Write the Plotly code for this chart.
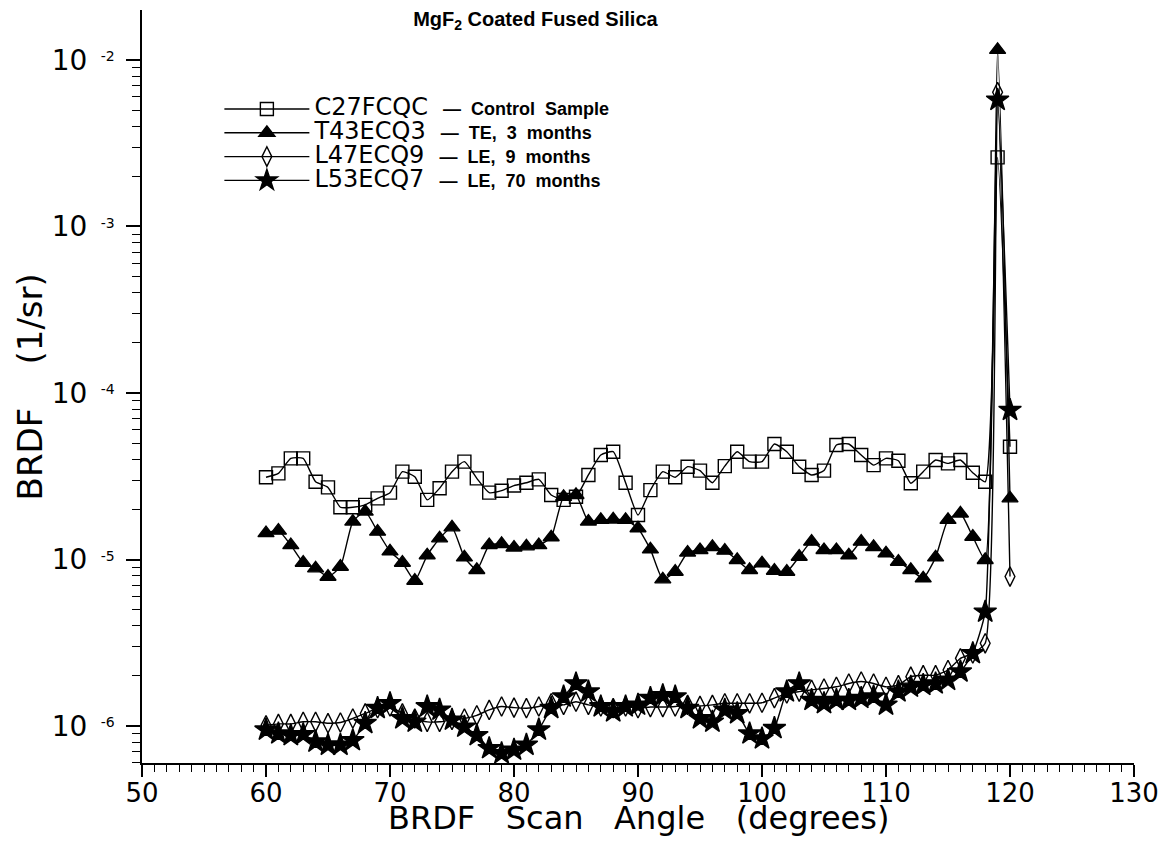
import plotly.graph_objects as go

angles = list(range(60, 121))

control_c27fcqc = [
    3.12e-5, 3.29e-5, 4.05e-5, 4.05e-5, 2.93e-5, 2.71e-5, 2.06e-5, 2.06e-5, 2.13e-5, 2.33e-5,
    2.52e-5, 3.37e-5, 3.14e-5, 2.28e-5, 2.68e-5, 3.37e-5, 3.87e-5, 3.07e-5, 2.52e-5, 2.59e-5,
    2.78e-5, 2.89e-5, 3.03e-5, 2.44e-5, 2.28e-5, 2.38e-5, 3.22e-5, 4.24e-5, 4.44e-5, 2.89e-5,
    1.85e-5, 2.61e-5, 3.37e-5, 3.12e-5, 3.61e-5, 3.42e-5, 2.89e-5, 3.64e-5, 4.44e-5, 3.87e-5,
    3.87e-5, 4.94e-5, 4.44e-5, 3.61e-5, 3.22e-5, 3.42e-5, 4.87e-5, 4.94e-5, 4.24e-5, 3.69e-5,
    4.05e-5, 3.92e-5, 2.87e-5, 3.37e-5, 3.96e-5, 3.78e-5, 3.96e-5, 3.32e-5, 2.93e-5, 2.6e-3,
    4.76e-5,
]

te_t43ecq3 = [
    1.44e-5, 1.49e-5, 1.22e-5, 9.57e-6, 8.85e-6, 7.88e-6, 9.05e-6, 1.69e-5, 1.94e-5, 1.47e-5,
    1.12e-5, 9.57e-6, 7.46e-6, 1.06e-5, 1.34e-5, 1.56e-5, 1.03e-5, 8.65e-6, 1.22e-5, 1.24e-5,
    1.18e-5, 1.20e-5, 1.22e-5, 1.36e-5, 2.38e-5, 2.44e-5, 1.69e-5, 1.73e-5, 1.74e-5, 1.73e-5,
    1.54e-5, 1.15e-5, 7.60e-6, 8.45e-6, 1.10e-5, 1.14e-5, 1.19e-5, 1.13e-5, 9.93e-6, 8.65e-6,
    9.49e-6, 8.56e-6, 8.45e-6, 1.04e-5, 1.28e-5, 1.14e-5, 1.14e-5, 1.06e-5, 1.28e-5, 1.19e-5,
    1.09e-5, 9.70e-6, 8.65e-6, 7.71e-6, 1.03e-5, 1.73e-5, 1.89e-5, 1.37e-5, 9.93e-6, 1.15e-2,
    2.33e-5,
]

le_l47ecq9 = [
    1.01e-6, 1.03e-6, 1.03e-6, 1.06e-6, 1.06e-6, 1.04e-6, 1.05e-6, 1.11e-6, 1.19e-6, 1.28e-6,
    1.31e-6, 1.19e-6, 1.11e-6, 1.06e-6, 1.06e-6, 1.09e-6, 1.11e-6, 1.16e-6, 1.25e-6, 1.31e-6,
    1.29e-6, 1.28e-6, 1.31e-6, 1.37e-6, 1.34e-6, 1.40e-6, 1.34e-6, 1.31e-6, 1.28e-6, 1.31e-6,
    1.28e-6, 1.30e-6, 1.30e-6, 1.31e-6, 1.34e-6, 1.32e-6, 1.34e-6, 1.37e-6, 1.37e-6, 1.37e-6,
    1.38e-6, 1.47e-6, 1.57e-6, 1.61e-6, 1.65e-6, 1.68e-6, 1.72e-6, 1.80e-6, 1.85e-6, 1.80e-6,
    1.72e-6, 1.76e-6, 1.98e-6, 2.02e-6, 2.02e-6, 2.17e-6, 2.55e-6, 2.73e-6, 3.14e-6, 6.4e-3,
    7.9e-6,
]

le_l53ecq7 = [
    9.5e-7, 9.0e-7, 8.8e-7, 8.9e-7, 8.05e-7, 7.7e-7, 7.7e-7, 8.2e-7, 1.04e-6, 1.28e-6,
    1.37e-6, 1.11e-6, 1.06e-6, 1.31e-6, 1.25e-6, 1.09e-6, 9.9e-7, 8.8e-7, 7.35e-7, 6.85e-7,
    7.2e-7, 7.7e-7, 9.5e-7, 1.28e-6, 1.50e-6, 1.80e-6, 1.61e-6, 1.31e-6, 1.22e-6, 1.31e-6,
    1.34e-6, 1.47e-6, 1.53e-6, 1.50e-6, 1.28e-6, 1.11e-6, 1.06e-6, 1.25e-6, 1.19e-6, 9.0e-7,
    8.4e-7, 9.7e-7, 1.61e-6, 1.80e-6, 1.43e-6, 1.37e-6, 1.43e-6, 1.43e-6, 1.47e-6, 1.50e-6,
    1.34e-6, 1.61e-6, 1.72e-6, 1.76e-6, 1.80e-6, 1.89e-6, 2.12e-6, 2.73e-6, 4.85e-6, 5.75e-3,
    7.9e-5,
]

series_codes = ["C27FCQC", "T43ECQ3", "L47ECQ9", "L53ECQ7"]
series_desc = ["Control  Sample", "TE,  3  months", "LE,  9  months", "LE,  70  months"]
series_values = [control_c27fcqc, te_t43ecq3, le_l47ecq9, le_l53ecq7]
series_symbols = ["square-open", "triangle-up", "diamond-tall-open", "star"]
series_sizes = [13, 14, 14, 17]

x_title = "BRDF   Scan   Angle   (degrees)"
y_title = "BRDF    (1/sr)"
x_tick_vals = [50, 60, 70, 80, 90, 100, 110, 120, 130]
y_tick_vals = [1e-6, 1e-5, 1e-4, 1e-3, 1e-2]
y_exponents = ["-6", "-5", "-4", "-3", "-2"]
y_tick_text = [f"10 <span style='font-size:20px'><sup> {e}</sup></span>" for e in y_exponents]

y_minor = [k * 10.0 ** e for e in range(-7, -1) for k in range(2, 10)]
y_minor = [v for v in y_minor if 6e-7 <= v <= 2e-2]

fig = go.Figure()
for code, desc, vals, sym, sz in zip(series_codes, series_desc, series_values, series_symbols, series_sizes):
    fig.add_trace(go.Scatter(
        x=angles, y=vals, mode="lines+markers",
        name=(f"<span style='font-size:24px;font-family:DejaVu Sans'>{code}</span>"
              f"<span style='font-size:18px'><b>   —  {desc}</b></span>"),
        line=dict(color="black", width=1.4, shape="spline", smoothing=0.5),
        marker=dict(symbol=sym, size=sz, color="black", line=dict(color="black", width=1.4)),
    ))

fig.update_layout(
    width=1154, height=831,
    margin=dict(l=134, r=28, t=2, b=76, autoexpand=False),
    paper_bgcolor="white", plot_bgcolor="white",
    font=dict(family="Liberation Sans", color="black"),
    title=dict(text="<b>MgF<sub>2</sub> Coated Fused Silica</b>", x=0.457, y=0.9868,
               xanchor="center", yanchor="middle", font=dict(size=20, family="Liberation Sans")),
    showlegend=True,
    legend=dict(x=0.078, y=0.891, xanchor="left", yanchor="top", bgcolor="rgba(0,0,0,0)",
                font=dict(size=16, family="Liberation Sans"), tracegroupgap=0, itemwidth=85),
    annotations=[
        dict(text=x_title, xref="paper", yref="paper", x=0.5, y=-0.073,
             xanchor="center", yanchor="middle", showarrow=False,
             font=dict(size=32, family="DejaVu Sans", color="black")),
        dict(text=y_title, xref="paper", yref="paper", x=-0.113, y=0.5, textangle=-90,
             xanchor="center", yanchor="middle", showarrow=False,
             font=dict(size=34, family="DejaVu Sans", color="black")),
    ],
)

fig.update_xaxes(
    range=[50, 130], tickmode="array", tickvals=x_tick_vals, automargin=False,
    showline=True, linecolor="black", linewidth=1.5, mirror=False,
    ticks="outside", ticklen=12, tickwidth=1.5, tickcolor="black", ticklabelstandoff=-6,
    tickfont=dict(size=26, family="DejaVu Sans"),
    minor=dict(dtick=1, ticks="outside", ticklen=7, tickwidth=1.2, tickcolor="black", showgrid=False),
    showgrid=False, zeroline=False,
)

fig.update_yaxes(
    type="log", range=[-6.222, -1.70], tickmode="array", tickvals=y_tick_vals, ticktext=y_tick_text,
    automargin=False,
    showline=True, linecolor="black", linewidth=1.5, mirror=False,
    ticks="outside", ticklen=14, tickwidth=1.5, tickcolor="black", ticklabelstandoff=6,
    tickfont=dict(size=28, family="DejaVu Sans"),
    minor=dict(tickmode="array", tickvals=y_minor, ticks="outside", ticklen=8, tickwidth=1.2,
               tickcolor="black", showgrid=False),
    showgrid=False, zeroline=False,
)

fig.write_html("out.html")
